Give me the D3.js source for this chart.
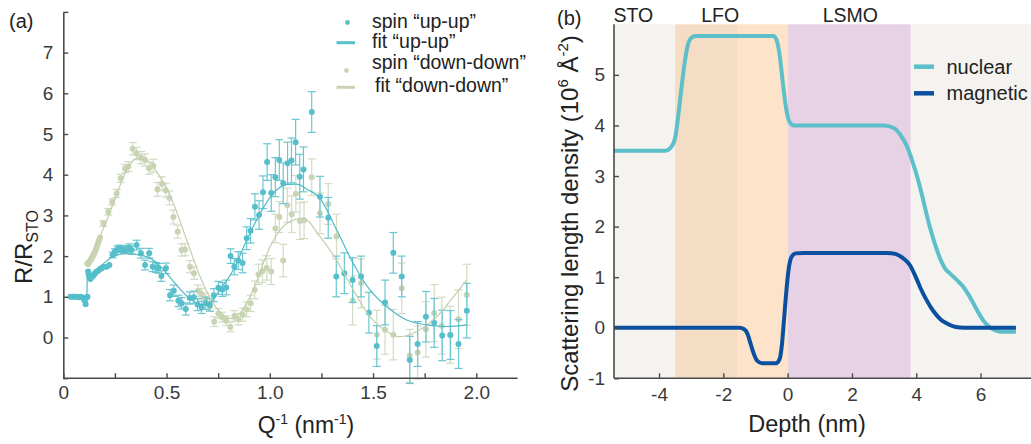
<!DOCTYPE html>
<html><head><meta charset="utf-8">
<script src="https://cdn.jsdelivr.net/npm/d3@7"></script>
<style>
html,body{margin:0;padding:0;background:#fff;}
svg{display:block;font-family:"Liberation Sans",Arial,Helvetica,sans-serif;}
</style></head>
<body><svg id="c" width="1031" height="444"></svg>
<script>
// ---------- DATA (a) ----------
// [Q, R/R_STO, error]
const upPoints = [[0.035,1.00,0.03],[0.045,1.00,0.03],[0.055,1.00,0.03],[0.065,1.00,0.03],[0.075,0.99,0.03],[0.085,1.00,0.03],[0.092,0.98,0.03],[0.098,0.96,0.03],[0.104,0.90,0.03],[0.108,0.82,0.03],[0.113,0.98,0.03],[0.117,1.00,0.03],
[0.120,1.62,0.05],[0.123,1.54,0.05],[0.127,1.46,0.05],[0.131,1.44,0.05],[0.135,1.48,0.05],[0.140,1.50,0.05],[0.145,1.52,0.05],[0.150,1.56,0.05],[0.155,1.58,0.05],[0.162,1.62,0.05],[0.170,1.64,0.05],[0.178,1.68,0.05],[0.186,1.70,0.05],[0.194,1.73,0.05],[0.210,1.74,0.06],[0.223,1.78,0.06],[0.239,2.03,0.07],[0.250,2.11,0.07],[0.262,2.17,0.08],[0.271,2.19,0.08],[0.283,2.17,0.08],[0.295,2.15,0.08],[0.307,2.17,0.09],[0.320,2.21,0.09],[0.331,2.15,0.1],[0.355,2.27,0.12],[0.376,2.07,0.12],[0.396,1.78,0.12],[0.416,2.07,0.12],[0.433,1.74,0.12],[0.449,1.72,0.12],[0.460,1.70,0.12],[0.475,1.51,0.13],[0.497,1.70,0.13],[0.517,1.04,0.14],[0.535,1.15,0.14],[0.557,0.90,0.14],[0.573,0.84,0.14],[0.593,0.70,0.15],[0.612,0.97,0.15],[0.632,0.99,0.15],[0.650,0.81,0.15],[0.670,0.74,0.15],[0.690,0.84,0.15],[0.709,0.80,0.15],[0.729,1.04,0.16],[0.751,1.22,0.16],[0.770,1.18,0.17],[0.789,1.23,0.18],[0.810,2.0,0.18],[0.828,1.74,0.2],[0.847,1.89,0.22],[0.868,1.83,0.24],[0.888,2.44,0.28],[0.907,2.62,0.3],[0.928,3.21,0.32],[0.948,3.01,0.35],[0.967,3.57,0.4],[0.987,4.31,0.45],[1.007,3.55,0.45],[1.027,3.94,0.48],[1.046,4.36,0.5],[1.065,3.79,0.5],[1.086,4.28,0.52],[1.105,4.35,0.55],[1.125,4.80,0.56],[1.145,3.95,0.55],[1.163,4.13,0.55],[1.203,5.54,0.5],[1.243,3.46,0.5],[1.283,2.94,0.5],[1.322,1.50,0.5],[1.361,1.58,0.5],[1.401,1.41,0.55],[1.442,1.50,0.5],[1.480,0.61,0.5],[1.518,-0.21,0.5],[1.558,0.86,0.55],[1.598,2.08,0.5],[1.639,1.50,0.5],[1.678,-0.55,0.58],[1.716,-0.16,0.55],[1.756,0.51,0.62],[1.796,0.36,0.6],[1.835,0.05,0.62],[1.875,0.06,0.6],[1.914,-0.16,0.6],[1.954,0.66,0.67]];

const downPoints = [[0.116,1.82,0.05],[0.121,1.80,0.05],[0.126,1.86,0.05],[0.132,1.90,0.05],[0.137,1.95,0.05],[0.141,1.98,0.05],[0.145,2.03,0.05],[0.150,2.07,0.05],[0.154,2.11,0.05],[0.158,2.17,0.05],[0.162,2.23,0.05],[0.166,2.28,0.05],[0.170,2.35,0.06],[0.174,2.40,0.06],[0.178,2.46,0.06],[0.194,2.80,0.07],[0.218,3.09,0.08],[0.237,3.33,0.08],[0.258,3.54,0.1],[0.278,3.91,0.1],[0.299,4.15,0.1],[0.315,4.20,0.12],[0.336,4.64,0.15],[0.355,4.52,0.15],[0.376,4.42,0.15],[0.396,4.36,0.15],[0.415,4.16,0.15],[0.436,4.22,0.16],[0.456,3.64,0.17],[0.477,3.78,0.17],[0.496,3.62,0.17],[0.514,3.43,0.17],[0.533,2.96,0.17],[0.554,2.60,0.16],[0.573,2.15,0.15],[0.590,2.16,0.15],[0.614,1.74,0.15],[0.633,1.58,0.15],[0.652,1.15,0.14],[0.669,1.07,0.14],[0.688,0.96,0.13],[0.710,0.76,0.12],[0.731,0.39,0.12],[0.751,0.59,0.12],[0.770,0.50,0.12],[0.789,0.41,0.12],[0.809,0.26,0.12],[0.828,0.53,0.13],[0.848,0.45,0.14],[0.869,0.56,0.16],[0.888,0.69,0.18],[0.907,0.84,0.2],[0.927,1.17,0.22],[0.945,1.55,0.25],[0.964,1.63,0.28],[0.985,1.71,0.3],[1.007,1.62,0.32],[1.027,2.68,0.35],[1.046,2.96,0.38],[1.065,1.89,0.4],[1.085,3.25,0.42],[1.106,3.03,0.45],[1.126,3.53,0.45],[1.146,2.86,0.45],[1.166,2.88,0.45],[1.203,3.94,0.45],[1.243,3.05,0.5],[1.283,3.28,0.5],[1.323,2.48,0.55],[1.401,0.91,0.6],[1.442,1.33,0.6],[1.518,0.07,0.6],[1.558,0.19,0.6],[1.598,0.07,0.62],[1.639,1.21,0.62],[1.677,-0.45,0.65],[1.716,-0.37,0.65],[1.756,0.20,0.68],[1.796,0.60,0.7],[1.833,0.29,0.7],[1.873,0.07,0.7],[1.914,0.45,0.72],[1.954,1.05,0.75]];

const upFit = [[0.035,1.0],[0.11,1.0],[0.114,1.0],[0.116,1.46],[0.13,1.5],[0.178,1.74],[0.242,1.99],[0.3,2.06],[0.355,2.04],[0.42,1.95],[0.468,1.76],[0.533,1.38],[0.598,1.02],[0.64,0.86],[0.685,0.8],[0.71,0.84],[0.758,1.17],[0.823,1.66],[0.888,2.39],[0.953,3.05],[1.017,3.54],[1.082,3.76],[1.13,3.77],[1.178,3.65],[1.243,3.42],[1.324,2.64],[1.404,1.82],[1.485,1.17],[1.566,0.76],[1.663,0.43],[1.76,0.31],[1.857,0.27],[1.955,0.31]];

const downFit = [[0.116,1.82],[0.178,2.48],[0.242,3.29],[0.307,4.11],[0.355,4.40],[0.404,4.36],[0.468,3.95],[0.533,3.29],[0.598,2.39],[0.662,1.50],[0.726,0.84],[0.791,0.5],[0.82,0.46],[0.856,0.6],[0.92,1.17],[1.001,2.23],[1.082,2.80],[1.162,2.93],[1.243,2.48],[1.324,1.90],[1.404,1.17],[1.485,0.51],[1.566,0.15],[1.63,0.02],[1.727,0.19],[1.808,0.51],[1.889,1.0],[1.953,1.41]];

const qTicks = [0,0.25,0.5,0.75,1.0,1.25,1.5,1.75,2.0];
const qTickLabels = {"0":"0","0.5":"0.5","1":"1.0","1.5":"1.5","2":"2.0"};
const rTicks = [-1,0,1,2,3,4,5,6,7,8];
const rTickLabels = [0,1,2,3,4,5,6,7];
const legendA = ["spin \u201cup-up\u201d","fit \u201cup-up\u201d","spin \u201cdown-down\u201d","fit \u201cdown-down\u201d"];

// ---------- DATA (b) ----------
// [depth nm, SLD]
const nuclear = [[-5.4,3.5],[-3.8,3.5],[-3.65,3.55],[-3.5,3.75],[-3.4,4.2],[-3.3,4.75],[-3.2,5.25],[-3.1,5.6],[-3.0,5.73],[-2.85,5.77],[-0.45,5.77],[-0.35,5.7],[-0.25,5.4],[-0.15,4.85],[-0.05,4.35],[0.05,4.08],[0.2,4.0],[3.0,4.0],[3.3,3.95],[3.5,3.82],[3.7,3.6],[3.85,3.35],[4.0,3.05],[4.15,2.7],[4.3,2.3],[4.45,1.93],[4.6,1.62],[4.76,1.34],[4.9,1.17],[5.07,1.06],[5.25,0.95],[5.45,0.82],[5.6,0.68],[5.78,0.48],[5.95,0.28],[6.1,0.13],[6.25,0.03],[6.45,-0.05],[6.7,-0.08],[7.1,-0.08]];
const magnetic = [[-5.4,0],[-1.5,0],[-1.35,-0.03],[-1.25,-0.12],[-1.15,-0.32],[-1.05,-0.52],[-0.95,-0.65],[-0.8,-0.7],[-0.35,-0.7],[-0.25,-0.62],[-0.18,-0.35],[-0.12,0.1],[-0.05,0.65],[0.03,1.15],[0.12,1.4],[0.25,1.47],[0.5,1.48],[3.1,1.48],[3.35,1.46],[3.6,1.37],[3.8,1.24],[4.0,0.98],[4.12,0.8],[4.3,0.57],[4.53,0.33],[4.75,0.17],[4.94,0.09],[5.2,0.02],[5.5,0],[7.1,0]];
const regions = [{name:"STO",from:-5.4,to:-3.5},{name:"LFO",from:-3.5,to:-1.55},{name:"",from:-1.55,to:0},{name:"LSMO",from:0,to:3.83},{name:"",from:3.83,to:7.6}];
const regionLabels = [["STO",-4.8],["LFO",-2.1],["LSMO",1.95]];
const depthTicks = [-4,-2,0,2,4,6];
const sldTicks = [-1,0,1,2,3,4,5];
const legendB = ["nuclear","magnetic"];

// ---------- STYLE ----------
const C = {teal:"#56bfcb", tealErr:"#6ac6d1", tealFit:"#4fbac6", sage:"#c9d4b4", sageErr:"#d2dbc3", sageFit:"#c3cfac",
  nuc:"#5dbfca", mag:"#0b50a0", axis:"#4a4a4a", tick:"#3a3a3a",
  bg:["#f4f3ef","#f5dcc5","#fde3c9","#e7d1e4","#f4f3ef"]};

const svg = d3.select("#c");

// ===== Panel (a) =====
const xA = d3.scaleLinear().domain([0,2.2]).range([63.3,517.6]);
const yA = d3.scaleLinear().domain([-1,8]).range([378.2,11.9]);
const gA = svg.append("g");

function drawSeries(pts, errColor, dotColor){
  const g = gA.append("g");
  g.selectAll("line.e").data(pts).enter().append("line")
    .attr("x1",d=>xA(d[0])).attr("x2",d=>xA(d[0]))
    .attr("y1",d=>yA(d[1]-d[2])).attr("y2",d=>yA(d[1]+d[2]))
    .attr("stroke",errColor).attr("stroke-width",1.2);
  [1,-1].forEach(s=>{
    g.selectAll(null).data(pts.filter(d=>d[2]>0.06)).enter().append("line")
      .attr("x1",d=>xA(d[0])-4).attr("x2",d=>xA(d[0])+4)
      .attr("y1",d=>yA(d[1]+s*d[2])).attr("y2",d=>yA(d[1]+s*d[2]))
      .attr("stroke",errColor).attr("stroke-width",1.2);
  });
  g.selectAll("circle").data(pts).enter().append("circle")
    .attr("cx",d=>xA(d[0])).attr("cy",d=>yA(d[1])).attr("r",3).attr("fill",dotColor);
}
drawSeries(downPoints, C.sageErr, C.sage);
drawSeries(upPoints, C.tealErr, C.teal);

const lineA = d3.line().x(d=>xA(d[0])).y(d=>yA(d[1])).curve(d3.curveMonotoneX);
gA.append("path").attr("d",lineA(downFit)).attr("fill","none").attr("stroke",C.sageFit).attr("stroke-width",1.2);
gA.append("path").attr("d",lineA(upFit)).attr("fill","none").attr("stroke",C.tealFit).attr("stroke-width",1.2);

// axes (a)
const axXA = gA.append("g").attr("transform",`translate(0,${yA(-1)})`)
  .call(d3.axisBottom(xA).tickValues(qTicks).tickSizeInner(-5).tickSizeOuter(0).tickPadding(7)
    .tickFormat(d=>qTickLabels[String(d)]||""));
const axYA = gA.append("g").attr("transform",`translate(${xA(0)},0)`)
  .call(d3.axisLeft(yA).tickValues(rTicks).tickSizeInner(-5).tickSizeOuter(0).tickPadding(10)
    .tickFormat(d=>rTickLabels.includes(d)?String(d):""));
[axXA,axYA].forEach(a=>{
  a.select(".domain").attr("stroke",C.axis).attr("stroke-width",1.6);
  a.selectAll(".tick line").attr("stroke",C.axis).attr("stroke-width",1.4);
  a.selectAll(".tick text").attr("fill",C.tick).attr("font-size",19).attr("font-family","Liberation Sans, Arial, sans-serif");
});
axXA.select(".domain").attr("d",`M${xA(0)},0H${xA(2.2)}`);

// labels (a)
svg.append("text").attr("x",9).attr("y",28).attr("font-size",20).attr("fill","#222").text("(a)");
const xtA = svg.append("text").attr("x",xA(1.175)).attr("y",433).attr("text-anchor","middle").attr("font-size",23).attr("fill","#222");
xtA.append("tspan").text("Q");
xtA.append("tspan").attr("font-size",14).attr("dy",-9).text("-1");
xtA.append("tspan").attr("dy",9).text(" (nm");
xtA.append("tspan").attr("font-size",14).attr("dy",-9).text("-1");
xtA.append("tspan").attr("dy",9).text(")");
const ytA = svg.append("text").attr("transform","translate(32,247) rotate(-90)").attr("text-anchor","middle").attr("font-size",24).attr("fill","#222");
ytA.append("tspan").text("R/R");
ytA.append("tspan").attr("font-size",16).attr("dy",6).text("STO");

// legend (a)
const legA = svg.append("g");
legA.append("circle").attr("cx",347.5).attr("cy",22.5).attr("r",2.4).attr("fill",C.teal);
legA.append("line").attr("x1",336.5).attr("x2",355).attr("y1",42.7).attr("y2",42.7).attr("stroke",C.teal).attr("stroke-width",3);
legA.append("circle").attr("cx",346.5).attr("cy",70.5).attr("r",2.4).attr("fill",C.sage);
legA.append("line").attr("x1",336.5).attr("x2",355).attr("y1",87.3).attr("y2",87.3).attr("stroke",C.sage).attr("stroke-width",3);
const legAy = [28,48,69,92], legAx = [372,372,372,375];
legendA.forEach((t,i)=>legA.append("text").attr("x",legAx[i]).attr("y",legAy[i]).attr("font-size",19.5).attr("fill","#222").text(t));

// ===== Panel (b) =====
const xB = d3.scaleLinear().domain([-5.4,7.6]).range([614,1032]);
const yB = d3.scaleLinear().domain([-1,6]).range([378.3,24.3]);
const gB = svg.append("g");
gB.selectAll("rect").data(regions).enter().append("rect")
  .attr("x",d=>xB(d.from)).attr("width",d=>xB(d.to)-xB(d.from))
  .attr("y",yB(6)).attr("height",yB(-1)-yB(6))
  .attr("fill",(d,i)=>C.bg[i]);

const lineB = d3.line().x(d=>xB(d[0])).y(d=>yB(d[1])).curve(d3.curveMonotoneX);
gB.append("path").attr("d",lineB(nuclear)).attr("fill","none").attr("stroke",C.nuc).attr("stroke-width",4).attr("stroke-linejoin","round");
gB.append("path").attr("d",lineB(magnetic)).attr("fill","none").attr("stroke",C.mag).attr("stroke-width",4).attr("stroke-linejoin","round");

const axXB = gB.append("g").attr("transform",`translate(0,${yB(-1)})`)
  .call(d3.axisBottom(xB).tickValues(depthTicks).tickSizeInner(-5).tickSizeOuter(0).tickPadding(9)
    .tickFormat(d=>String(d).replace("\u2212","-")));
const axYB = gB.append("g").attr("transform",`translate(${xB(-5.4)},0)`)
  .call(d3.axisLeft(yB).tickValues(sldTicks).tickSizeInner(-5).tickSizeOuter(0).tickPadding(9)
    .tickFormat(d=>String(d)));
[axXB,axYB].forEach(a=>{
  a.select(".domain").attr("stroke",C.axis).attr("stroke-width",1.6);
  a.selectAll(".tick line").attr("stroke",C.axis).attr("stroke-width",1.4);
  a.selectAll(".tick text").attr("fill",C.tick).attr("font-size",19).attr("font-family","Liberation Sans, Arial, sans-serif");
});
axYB.select(".domain").attr("d",`M0,${yB(-1)}V${yB(6)}`);
axXB.select(".domain").attr("d",`M${xB(-5.4)},0H1031`);

regionLabels.forEach(r=>svg.append("text").attr("x",xB(r[1])).attr("y",22).attr("text-anchor","middle")
  .attr("font-size",19.5).attr("fill","#222").text(r[0]));
svg.append("text").attr("x",557).attr("y",25).attr("font-size",20).attr("fill","#222").text("(b)");
svg.append("text").attr("x",807).attr("y",432).attr("text-anchor","middle").attr("font-size",23.5).attr("fill","#222").text("Depth (nm)");
const ytB = svg.append("text").attr("transform","translate(578,213.5) rotate(-90)").attr("text-anchor","middle").attr("font-size",24).attr("fill","#222");
ytB.append("tspan").text("Scattering length density (10");
ytB.append("tspan").attr("font-size",15).attr("dy",-10).text("6");
ytB.append("tspan").attr("dy",10).text(" \u00c5");
ytB.append("tspan").attr("font-size",15).attr("dy",-10).text("-2");
ytB.append("tspan").attr("dy",10).text(")");

// legend (b)
const legBc = [C.nuc, C.mag], legBy = [66.7, 93.3];
legendB.forEach((t,i)=>{
  svg.append("line").attr("x1",914).attr("x2",934).attr("y1",legBy[i]).attr("y2",legBy[i]).attr("stroke",legBc[i]).attr("stroke-width",4.5);
  svg.append("text").attr("x",946.5).attr("y",legBy[i]+7).attr("font-size",20).attr("fill","#222").text(t);
});
</script></body></html>
